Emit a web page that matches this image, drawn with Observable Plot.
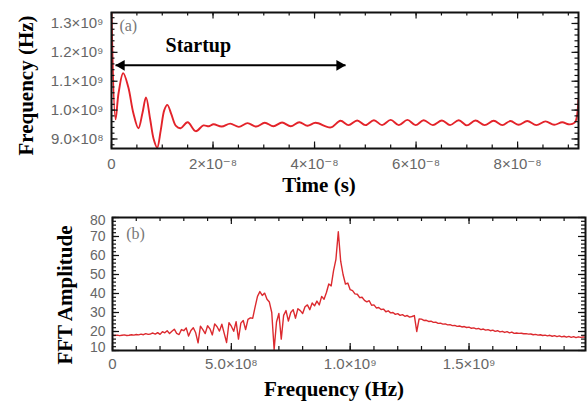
<!DOCTYPE html>
<html><head><meta charset="utf-8">
<script src="https://cdn.jsdelivr.net/npm/d3@7"></script>
<script src="https://cdn.jsdelivr.net/npm/@observablehq/plot@0.6"></script>
<style>
html,body{margin:0;padding:0;background:#fff;}
#chart{width:588px;height:408px;overflow:hidden;}
#chart svg{display:block;}
</style></head><body><div id="chart"></div>
<script>
// ---------- Panel (a): instantaneous frequency vs time ----------
const timeSec = [0, 0.08e-8, 0.14e-8, 0.23e-8, 0.33e-8, 0.43e-8, 0.53e-8, 0.61e-8, 0.68e-8, 0.76e-8,
  0.83e-8, 0.90e-8, 0.97e-8, 1.04e-8, 1.10e-8, 1.18e-8, 1.27e-8, 1.36e-8, 1.50e-8, 1.66e-8,
  1.81e-8, 1.92e-8, 2.01e-8, 2.17e-8, 2.34e-8, 2.51e-8, 2.68e-8, 2.85e-8, 3.02e-8, 3.19e-8,
  3.36e-8, 3.53e-8, 3.70e-8, 3.86e-8, 4.02e-8, 4.32e-8, 4.51e-8, 4.67e-8, 4.84e-8, 5.00e-8,
  5.17e-8, 5.33e-8, 5.50e-8, 5.66e-8, 5.83e-8, 5.99e-8, 6.15e-8, 6.33e-8, 6.51e-8, 6.67e-8,
  6.84e-8, 7.00e-8, 7.17e-8, 7.35e-8, 7.53e-8, 7.70e-8, 7.86e-8, 8.02e-8, 8.19e-8, 8.37e-8,
  8.55e-8, 8.72e-8, 8.88e-8, 9.00e-8, 9.08e-8, 9.14e-8, 9.20e-8];
const freqHz = [1.34e9, 0.968e9, 1.06e9, 1.128e9, 1.08e9, 0.99e9, 0.937e9, 0.99e9, 1.044e9, 0.97e9,
  0.90e9, 0.870e9, 0.93e9, 1.00e9, 1.018e9, 0.985e9, 0.945e9, 0.937e9, 0.958e9, 0.927e9,
  0.947e9, 0.944e9, 0.951e9, 0.943e9, 0.953e9, 0.942e9, 0.955e9, 0.943e9, 0.956e9, 0.944e9,
  0.957e9, 0.944e9, 0.958e9, 0.946e9, 0.956e9, 0.940e9, 0.963e9, 0.948e9, 0.964e9, 0.948e9,
  0.965e9, 0.948e9, 0.966e9, 0.948e9, 0.966e9, 0.948e9, 0.965e9, 0.948e9, 0.964e9, 0.948e9,
  0.965e9, 0.947e9, 0.964e9, 0.948e9, 0.963e9, 0.948e9, 0.962e9, 0.949e9, 0.962e9, 0.948e9,
  0.961e9, 0.949e9, 0.958e9, 0.951e9, 0.952e9, 0.960e9, 1.04e9];
const timeTicks = [0, 2e-8, 4e-8, 6e-8, 8e-8];
const timeTickLabels = ["0", "2×10⁻⁸", "4×10⁻⁸", "6×10⁻⁸", "8×10⁻⁸"];
const freqTicks = [0.9e9, 1.0e9, 1.1e9, 1.2e9, 1.3e9];
const freqTickLabels = ["9.0×10⁸", "1.0×10⁹", "1.1×10⁹", "1.2×10⁹", "1.3×10⁹"];
const startupArrowX = [0.08e-8, 4.61e-8];
const startupArrowY = 1.155e9;
const panelATexts = ["(a)", "Startup"];
const panelATextX = [0.33e-8, 1.71e-8];
const panelATextY = [1.292e9, 1.224e9];

// ---------- Panel (b): FFT amplitude spectrum ----------
const fftStartHz = 0;
const fftStepHz = 1e7;
const fftAmplitude = [
  18.0, 17.9, 18.1, 17.8, 18.0, 18.2, 17.9, 18.0, 18.3, 18.1,
  18.4, 18.2, 18.6, 18.3, 18.9, 18.5, 18.7, 19.2, 18.6, 19.4,
  18.5, 19.9, 19.3, 20.4, 18.9, 20.1, 21.2, 19.0, 18.4, 21.0,
  20.4, 21.9, 17.6, 20.5, 22.0, 19.3, 14.0, 22.8, 21.0, 18.9,
  23.0, 21.4, 18.2, 24.0, 22.5, 20.2, 23.8, 19.0, 14.2, 24.6,
  22.8, 20.1, 25.2, 16.0, 24.4, 25.8, 21.0, 26.4, 27.2, 27.0,
  33.0, 38.5, 41.0, 39.0, 40.2, 37.0, 35.5, 30.0, 10.5, 25.0,
  29.5, 16.0, 28.5, 31.0, 25.5, 30.0, 31.5, 27.0, 32.0, 31.0,
  29.5, 33.0, 34.0, 31.5, 35.0, 33.5, 36.0, 34.0, 38.5, 37.0,
  40.5, 45.0, 44.0, 52.0, 58.0, 72.5, 57.0, 50.0, 45.0, 45.5,
  42.0, 41.5, 39.8, 39.6, 37.8, 38.0, 36.4, 35.6, 36.2, 33.8,
  34.0, 32.4, 32.6, 31.6, 31.8, 30.4, 30.9, 29.8, 30.0, 29.0,
  29.4, 28.5, 28.9, 28.0, 28.4, 27.6, 27.9, 28.4, 20.0, 26.6,
  26.5, 25.8, 25.9, 25.3, 25.4, 24.8, 24.9, 24.3, 24.4, 23.9,
  24.0, 23.5, 23.6, 23.1, 23.2, 22.7, 22.9, 22.4, 22.6, 22.1,
  22.3, 21.7, 21.9, 21.4, 21.6, 21.0, 21.3, 20.7, 21.0, 20.4,
  20.7, 20.1, 20.4, 19.8, 20.1, 19.5, 19.9, 19.3, 19.7, 19.0,
  19.2, 19.0, 19.1, 18.8, 18.9, 18.6, 18.7, 18.3, 18.5, 18.1,
  18.3, 17.9, 18.1, 17.7, 18.0, 17.5, 17.8, 17.3, 17.7, 17.2,
  17.5, 17.0, 17.4, 16.9, 17.3, 16.8, 17.2, 16.9, 17.1, 17.0];
const fftFreqTicks = [0, 5e8, 1e9, 1.5e9];
const fftFreqTickLabels = ["0", "5.0×10⁸", "1.0×10⁹", "1.5×10⁹"];
const ampTicks = [20, 30, 40, 50, 60, 70];
const ampTicksEdge = [80, 10];
const panelBTexts = ["(b)"];
const panelBTextX = [0.97e8];
const panelBTextY = [71.5];

// ---------- helpers ----------
const TICK = "#111";
const TITLE_FONT = "'Liberation Serif', 'DejaVu Serif', serif";
const TICK_FONT = "'Liberation Sans', 'DejaVu Sans', sans-serif";
function inwardTicks(minorX, majorX, minorY, majorY, innerW, innerH, minLen, majLen) {
  const m = [];
  for (const [vals, len] of [[minorX, minLen], [majorX, majLen]]) {
    m.push(Plot.tickX(vals, {x: d => d, insetTop: innerH - len, stroke: TICK, strokeWidth: 1.2}));
    m.push(Plot.tickX(vals, {x: d => d, insetBottom: innerH - len, stroke: TICK, strokeWidth: 1.2}));
  }
  for (const [vals, len] of [[minorY, minLen], [majorY, majLen]]) {
    m.push(Plot.tickY(vals, {y: d => d, insetRight: innerW - len, stroke: TICK, strokeWidth: 1.2}));
    m.push(Plot.tickY(vals, {y: d => d, insetLeft: innerW - len, stroke: TICK, strokeWidth: 1.2}));
  }
  return m;
}
const titleStyle = {fill: "#000", fontFamily: TITLE_FONT, fontWeight: "bold", fontSize: 21};

// ---------- Panel (a) plot ----------
const A = {w: 588, h: 200, l: 111, r: 10, t: 12, b: 52};
const aInnerW = A.w - A.l - A.r, aInnerH = A.h - A.t - A.b;
const seriesA = timeSec.map((t, i) => ({t, f: freqHz[i]}));
const aDomainX = [0, 9.2e-8], aDomainY = [0.867e9, 1.338e9];
const arrowSeg = [{x1: startupArrowX[0], x2: startupArrowX[1], y: startupArrowY}];
const annA = panelATexts.map((s, i) => ({s, x: panelATextX[i], y: panelATextY[i]}));

const plotA = Plot.plot({
  width: A.w, height: A.h,
  marginLeft: A.l, marginRight: A.r, marginTop: A.t, marginBottom: A.b,
  x: {domain: aDomainX, label: null},
  y: {domain: aDomainY, label: null},
  style: {background: "#fff", color: "#666", fontFamily: TICK_FONT, fontSize: "15px", overflow: "visible"},
  marks: [
    Plot.line(seriesA, {x: "t", y: "f", stroke: "#e3232a", strokeWidth: 1.9, curve: "catmull-rom", clip: true}),
    ...inwardTicks(d3.range(0, 9.2e-8, 0.5e-8), timeTicks, d3.range(0.88e9, 1.335e9, 0.02e9), freqTicks, aInnerW, aInnerH, 3.5, 6.5),
    Plot.frame({stroke: TICK, strokeWidth: 2}),
    Plot.axisX(timeTicks, {tickSize: 0, tickPadding: 10, label: null, fontSize: 15, tickFormat: d => timeTickLabels[timeTicks.indexOf(d)]}),
    Plot.axisY(freqTicks, {tickSize: 0, tickPadding: 8, label: null, fontSize: 15, tickFormat: d => freqTickLabels[freqTicks.indexOf(d)]}),
    Plot.link(arrowSeg, {x1: "x1", x2: "x2", y1: "y", y2: "y", stroke: "#000", strokeWidth: 2}),
    Plot.dot(arrowSeg, {x: "x1", y: "y", symbol: "triangle", rotate: -90, r: 4, fill: "#000", dx: 6}),
    Plot.dot(arrowSeg, {x: "x2", y: "y", symbol: "triangle", rotate: 90, r: 4, fill: "#000", dx: -6}),
    Plot.text(annA.slice(0, 1), {x: "x", y: "y", text: "s", fill: "#777", fontFamily: TITLE_FONT, fontSize: 16}),
    Plot.text(annA.slice(1), {x: "x", y: "y", text: "s", fill: "#000", fontFamily: TITLE_FONT, fontWeight: "bold", fontSize: 20}),
    Plot.text(["Time (s)"], {frameAnchor: "bottom", textAnchor: "middle", dx: -26, dy: 43, ...titleStyle}),
    Plot.text(["Frequency (Hz)"], {frameAnchor: "left", textAnchor: "middle", rotate: -90, dx: -85, dy: 5, ...titleStyle})
  ]
});

// ---------- Panel (b) plot ----------
const B = {w: 588, h: 208, l: 112, r: 3, t: 17, b: 58};
const bInnerW = B.w - B.l - B.r, bInnerH = B.h - B.t - B.b;
const seriesB = fftAmplitude.map((a, i) => ({f: fftStartHz + i * fftStepHz, a}));
const annB = panelBTexts.map((s, i) => ({s, x: panelBTextX[i], y: panelBTextY[i]}));

const plotB = Plot.plot({
  width: B.w, height: B.h,
  marginLeft: B.l, marginRight: B.r, marginTop: B.t, marginBottom: B.b,
  x: {domain: [0, 1.99e9], label: null},
  y: {domain: [10, 80], label: null},
  style: {background: "#fff", color: "#666", fontFamily: TICK_FONT, fontSize: "15px"},
  marks: [
    Plot.line(seriesB, {x: "f", y: "a", stroke: "#dc2a2f", strokeWidth: 1.4, clip: true}),
    ...inwardTicks(d3.range(0, 1.99e9, 1e8), fftFreqTicks, d3.range(10, 81, 2), ampTicks.concat(ampTicksEdge), bInnerW, bInnerH, 4, 7),
    Plot.frame({stroke: TICK, strokeWidth: 2}),
    Plot.axisX(fftFreqTicks, {tickSize: 0, tickPadding: 8, label: null, fontSize: 15, tickFormat: d => fftFreqTickLabels[fftFreqTicks.indexOf(d)]}),
    Plot.axisY(ampTicks, {tickSize: 0, tickPadding: 7, label: null, fontSize: 14}),
    Plot.axisY([ampTicksEdge[0]], {tickSize: 0, tickPadding: 7, label: null, fontSize: 14, dy: 3}),
    Plot.axisY([ampTicksEdge[1]], {tickSize: 0, tickPadding: 7, label: null, fontSize: 14, dy: -3}),
    Plot.text(annB, {x: "x", y: "y", text: "s", fill: "#777", fontFamily: TITLE_FONT, fontSize: 16}),
    Plot.text(["Frequency (Hz)"], {frameAnchor: "bottom", textAnchor: "middle", dx: -15, dy: 45, ...titleStyle}),
    Plot.text(["FFT Amplitude"], {frameAnchor: "left", textAnchor: "middle", rotate: -90, dx: -47, dy: 11, ...titleStyle})
  ]
});

const chart = document.getElementById("chart");
chart.appendChild(plotA);
chart.appendChild(plotB);
</script>
</body></html>
